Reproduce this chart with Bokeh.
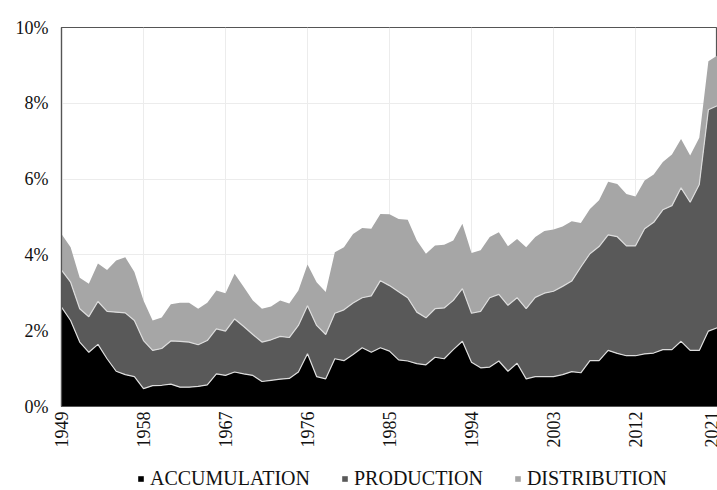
from bokeh.plotting import figure
from bokeh.models import ColumnDataSource, Range1d, FixedTicker, Legend, LegendItem
from bokeh.layouts import column
from bokeh.embed import file_html
from bokeh.resources import INLINE
import math

years = list(range(1949, 2022))

accumulation = [
    2.62, 2.27, 1.70, 1.43, 1.64, 1.26, 0.93, 0.84, 0.79, 0.47,
    0.55, 0.56, 0.59, 0.51, 0.51, 0.53, 0.57, 0.86, 0.82, 0.91,
    0.86, 0.82, 0.66, 0.69, 0.72, 0.74, 0.91, 1.39, 0.79, 0.73,
    1.26, 1.21, 1.37, 1.55, 1.43, 1.55, 1.46, 1.23, 1.20, 1.13,
    1.10, 1.30, 1.26, 1.50, 1.72, 1.17, 1.02, 1.04, 1.20, 0.93,
    1.14, 0.73, 0.79, 0.79, 0.79, 0.84, 0.92, 0.89, 1.21, 1.21,
    1.48, 1.40, 1.34, 1.34, 1.39, 1.41, 1.50, 1.50, 1.72, 1.48,
    1.48, 1.99, 2.08,
]

production = [
    0.98, 1.01, 0.88, 0.94, 1.13, 1.25, 1.56, 1.63, 1.48, 1.27,
    0.93, 0.97, 1.14, 1.21, 1.19, 1.10, 1.17, 1.19, 1.17, 1.40,
    1.25, 1.08, 1.04, 1.07, 1.13, 1.08, 1.23, 1.27, 1.35, 1.17,
    1.20, 1.34, 1.36, 1.32, 1.49, 1.77, 1.73, 1.80, 1.67, 1.36,
    1.24, 1.28, 1.34, 1.30, 1.39, 1.29, 1.49, 1.83, 1.76, 1.74,
    1.73, 1.85, 2.09, 2.20, 2.25, 2.33, 2.39, 2.79, 2.82, 3.01,
    3.05, 3.08, 2.90, 2.90, 3.30, 3.45, 3.69, 3.80, 4.05, 3.91,
    4.38, 5.84, 5.86,
]

distribution = [
    0.95, 0.92, 0.82, 0.87, 1.00, 1.09, 1.36, 1.47, 1.28, 1.06,
    0.79, 0.82, 0.97, 1.02, 1.04, 0.95, 1.00, 1.01, 1.00, 1.19,
    1.04, 0.90, 0.88, 0.88, 0.95, 0.90, 0.92, 1.09, 1.14, 1.12,
    1.61, 1.65, 1.82, 1.84, 1.77, 1.76, 1.88, 1.92, 2.06, 1.89,
    1.69, 1.67, 1.67, 1.58, 1.71, 1.59, 1.61, 1.60, 1.64, 1.56,
    1.55, 1.62, 1.59, 1.64, 1.63, 1.58, 1.58, 1.16, 1.18, 1.22,
    1.40, 1.39, 1.37, 1.30, 1.27, 1.26, 1.26, 1.35, 1.29, 1.23,
    1.23, 1.28, 1.32,
]

x_ticks = [1949, 1958, 1967, 1976, 1985, 1994, 2003, 2012, 2021]
y_ticks = [0, 2, 4, 6, 8, 10]
y_tick_labels = ["0%", "2%", "4%", "6%", "8%", "10%"]
series_names = ["ACCUMULATION", "PRODUCTION", "DISTRIBUTION"]
series_colors = ["#000000", "#595959", "#a6a6a6"]

FONT = "Liberation Serif"

source = ColumnDataSource(dict(
    year=years,
    acc=accumulation,
    prod=production,
    dist=distribution,
))

p = figure(
    width=717, height=462,
    x_range=Range1d(1949, 2021), y_range=Range1d(0, 10),
    output_backend="svg", toolbar_location=None,
    min_border_left=61, min_border_right=0,
    min_border_top=27, min_border_bottom=56,
)
p.background_fill_color = "white"
p.border_fill_color = "white"
p.outline_line_color = "#555555"
p.outline_line_width = 1.2

areas = p.varea_stack(["acc", "prod", "dist"], x="year", color=series_colors, source=source)
p.vline_stack(["acc", "prod"], x="year", color="#dcdcdc", line_width=1.2, source=source)

p.xaxis.ticker = FixedTicker(ticks=x_ticks)
p.yaxis.ticker = FixedTicker(ticks=y_ticks)
p.yaxis.major_label_overrides = {t: s for t, s in zip(y_ticks, y_tick_labels)}
p.xaxis.major_label_orientation = math.pi / 2

for ax in (p.xaxis, p.yaxis):
    ax.major_tick_out = 0
    ax.major_tick_in = 0
    ax.minor_tick_out = 0
    ax.minor_tick_in = 0
    ax.axis_line_color = "#555555"
    ax.axis_line_width = 1.2
    ax.major_label_text_font = FONT
    ax.major_label_text_font_size = "18px"
    ax.major_label_text_color = "#111111"

p.yaxis.major_label_standoff = 13
p.xaxis.major_label_standoff = 5

p.xgrid.grid_line_color = "#ececec"
p.ygrid.grid_line_color = "#ececec"
p.xgrid.grid_line_width = 1
p.ygrid.grid_line_width = 1

# legend strip below the chart (same series; the view range keeps the areas off-screen)
lg = figure(
    width=717, height=28,
    x_range=Range1d(0, 1), y_range=Range1d(0, 1),
    output_backend="svg", toolbar_location=None,
    x_axis_type=None, y_axis_type=None,
    min_border=0,
)
lg.outline_line_color = None
lg.grid.visible = False
lg.background_fill_color = "white"
lg.border_fill_color = "white"

key_renderers = lg.varea_stack(["acc", "prod", "dist"], x="year", color=series_colors, source=source)

legend = Legend(
    items=[LegendItem(label=n, renderers=[r]) for n, r in zip(series_names, key_renderers)],
    orientation="horizontal",
    location=(76, 0),
    glyph_width=7, glyph_height=7,
    label_standoff=6, spacing=31,
    padding=0, margin=0,
    label_text_font=FONT, label_text_font_size="20px", label_text_color="#111111",
    label_height=18,
    border_line_color=None, background_fill_alpha=0,
)
lg.add_layout(legend, "center")

open("out.html", "w").write(file_html(column(p, lg), INLINE))
